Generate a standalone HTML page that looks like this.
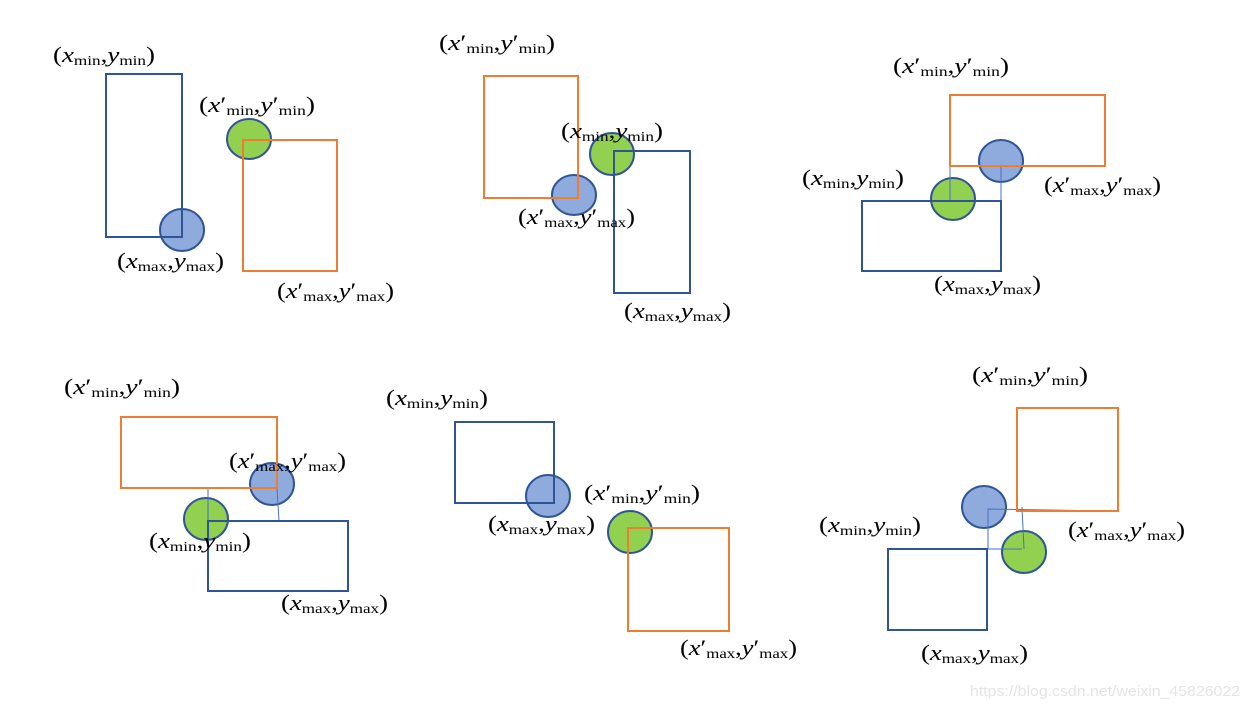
<!DOCTYPE html>
<html><head><meta charset="utf-8"><style>
html,body{margin:0;padding:0;background:#fff;}
svg{display:block;}
text{font-family:"Liberation Serif",serif;font-size:22px;fill:#000;}
.i{font-style:italic;}
.s{font-size:14px;}
.wm{font-family:"Liberation Sans",sans-serif;font-size:15px;fill:#e4e4e4;}
</style></head><body>
<svg width="1250" height="708" viewBox="0 0 1250 708" xmlns="http://www.w3.org/2000/svg">
<g stroke-width="2">
<g stroke="#2F5597">
<ellipse cx="182" cy="230" rx="22" ry="21" fill="#8FAADC"/>
<ellipse cx="249" cy="139" rx="22" ry="20" fill="#92D050"/>
<ellipse cx="574" cy="195" rx="22" ry="20" fill="#8FAADC"/>
<ellipse cx="612" cy="154" rx="22" ry="21" fill="#92D050"/>
<ellipse cx="953" cy="199" rx="22" ry="21" fill="#92D050"/>
<ellipse cx="1001" cy="161" rx="22" ry="21" fill="#8FAADC"/>
<ellipse cx="206" cy="519" rx="22" ry="21" fill="#92D050"/>
<ellipse cx="272" cy="484" rx="22" ry="21" fill="#8FAADC"/>
<ellipse cx="548" cy="496" rx="22" ry="21" fill="#8FAADC"/>
<ellipse cx="630" cy="532" rx="22" ry="21" fill="#92D050"/>
<ellipse cx="984" cy="507" rx="22" ry="21" fill="#8FAADC"/>
<ellipse cx="1024" cy="552" rx="22" ry="21" fill="#92D050"/>
</g>
<g stroke="#4472C4" stroke-width="1" fill="none">
<line x1="950" y1="130" x2="950" y2="200"/>
<line x1="1001" y1="166" x2="1001" y2="201"/>
<line x1="208" y1="488" x2="208" y2="521"/>
<line x1="277" y1="488" x2="279" y2="521"/>
<polyline points="988,549 988,509 1111,511"/>
<line x1="988" y1="549" x2="1022" y2="549"/>
<line x1="1022" y1="507" x2="1024" y2="549"/>
</g>
<g fill="none">
<rect x="106" y="74" width="76" height="163" stroke="#2F5597"/>
<rect x="243" y="140" width="94" height="131" stroke="#ED7D31"/>
<rect x="484" y="76" width="94" height="122" stroke="#ED7D31"/>
<rect x="614" y="151" width="76" height="142" stroke="#2F5597"/>
<rect x="950" y="95" width="155" height="71" stroke="#ED7D31"/>
<rect x="862" y="201" width="139" height="70" stroke="#2F5597"/>
<rect x="121" y="417" width="156" height="71" stroke="#ED7D31"/>
<rect x="208" y="521" width="140" height="70" stroke="#2F5597"/>
<rect x="455" y="422" width="99" height="81" stroke="#2F5597"/>
<rect x="628" y="528" width="101" height="103" stroke="#ED7D31"/>
<rect x="1017" y="408" width="101" height="103" stroke="#ED7D31"/>
<rect x="888" y="549" width="99" height="81" stroke="#2F5597"/>
</g>
</g>

<text x="53" y="62" textLength="102" lengthAdjust="spacingAndGlyphs">(<tspan class="i">x</tspan><tspan class="s" dy="3">min</tspan><tspan dy="-3">,</tspan><tspan class="i">y</tspan><tspan class="s" dy="3">min</tspan><tspan dy="-3">)</tspan></text>
<text x="561" y="138" textLength="102" lengthAdjust="spacingAndGlyphs">(<tspan class="i">x</tspan><tspan class="s" dy="3">min</tspan><tspan dy="-3">,</tspan><tspan class="i">y</tspan><tspan class="s" dy="3">min</tspan><tspan dy="-3">)</tspan></text>
<text x="802" y="185" textLength="102" lengthAdjust="spacingAndGlyphs">(<tspan class="i">x</tspan><tspan class="s" dy="3">min</tspan><tspan dy="-3">,</tspan><tspan class="i">y</tspan><tspan class="s" dy="3">min</tspan><tspan dy="-3">)</tspan></text>
<text x="149" y="548" textLength="102" lengthAdjust="spacingAndGlyphs">(<tspan class="i">x</tspan><tspan class="s" dy="3">min</tspan><tspan dy="-3">,</tspan><tspan class="i">y</tspan><tspan class="s" dy="3">min</tspan><tspan dy="-3">)</tspan></text>
<text x="386" y="405" textLength="102" lengthAdjust="spacingAndGlyphs">(<tspan class="i">x</tspan><tspan class="s" dy="3">min</tspan><tspan dy="-3">,</tspan><tspan class="i">y</tspan><tspan class="s" dy="3">min</tspan><tspan dy="-3">)</tspan></text>
<text x="819" y="532" textLength="102" lengthAdjust="spacingAndGlyphs">(<tspan class="i">x</tspan><tspan class="s" dy="3">min</tspan><tspan dy="-3">,</tspan><tspan class="i">y</tspan><tspan class="s" dy="3">min</tspan><tspan dy="-3">)</tspan></text>

<text x="117" y="268" textLength="107" lengthAdjust="spacingAndGlyphs">(<tspan class="i">x</tspan><tspan class="s" dy="3">max</tspan><tspan dy="-3">,</tspan><tspan class="i">y</tspan><tspan class="s" dy="3">max</tspan><tspan dy="-3">)</tspan></text>
<text x="624" y="318" textLength="107" lengthAdjust="spacingAndGlyphs">(<tspan class="i">x</tspan><tspan class="s" dy="3">max</tspan><tspan dy="-3">,</tspan><tspan class="i">y</tspan><tspan class="s" dy="3">max</tspan><tspan dy="-3">)</tspan></text>
<text x="934" y="291" textLength="107" lengthAdjust="spacingAndGlyphs">(<tspan class="i">x</tspan><tspan class="s" dy="3">max</tspan><tspan dy="-3">,</tspan><tspan class="i">y</tspan><tspan class="s" dy="3">max</tspan><tspan dy="-3">)</tspan></text>
<text x="281" y="610" textLength="107" lengthAdjust="spacingAndGlyphs">(<tspan class="i">x</tspan><tspan class="s" dy="3">max</tspan><tspan dy="-3">,</tspan><tspan class="i">y</tspan><tspan class="s" dy="3">max</tspan><tspan dy="-3">)</tspan></text>
<text x="488" y="531" textLength="107" lengthAdjust="spacingAndGlyphs">(<tspan class="i">x</tspan><tspan class="s" dy="3">max</tspan><tspan dy="-3">,</tspan><tspan class="i">y</tspan><tspan class="s" dy="3">max</tspan><tspan dy="-3">)</tspan></text>
<text x="921" y="660" textLength="107" lengthAdjust="spacingAndGlyphs">(<tspan class="i">x</tspan><tspan class="s" dy="3">max</tspan><tspan dy="-3">,</tspan><tspan class="i">y</tspan><tspan class="s" dy="3">max</tspan><tspan dy="-3">)</tspan></text>

<text x="199" y="112" textLength="116" lengthAdjust="spacingAndGlyphs">(<tspan class="i">x</tspan>′<tspan class="s" dy="3">min</tspan><tspan dy="-3">,</tspan><tspan class="i">y</tspan>′<tspan class="s" dy="3">min</tspan><tspan dy="-3">)</tspan></text>
<text x="439" y="50" textLength="116" lengthAdjust="spacingAndGlyphs">(<tspan class="i">x</tspan>′<tspan class="s" dy="3">min</tspan><tspan dy="-3">,</tspan><tspan class="i">y</tspan>′<tspan class="s" dy="3">min</tspan><tspan dy="-3">)</tspan></text>
<text x="893" y="73" textLength="116" lengthAdjust="spacingAndGlyphs">(<tspan class="i">x</tspan>′<tspan class="s" dy="3">min</tspan><tspan dy="-3">,</tspan><tspan class="i">y</tspan>′<tspan class="s" dy="3">min</tspan><tspan dy="-3">)</tspan></text>
<text x="64" y="394" textLength="116" lengthAdjust="spacingAndGlyphs">(<tspan class="i">x</tspan>′<tspan class="s" dy="3">min</tspan><tspan dy="-3">,</tspan><tspan class="i">y</tspan>′<tspan class="s" dy="3">min</tspan><tspan dy="-3">)</tspan></text>
<text x="584" y="500" textLength="116" lengthAdjust="spacingAndGlyphs">(<tspan class="i">x</tspan>′<tspan class="s" dy="3">min</tspan><tspan dy="-3">,</tspan><tspan class="i">y</tspan>′<tspan class="s" dy="3">min</tspan><tspan dy="-3">)</tspan></text>
<text x="972" y="382" textLength="116" lengthAdjust="spacingAndGlyphs">(<tspan class="i">x</tspan>′<tspan class="s" dy="3">min</tspan><tspan dy="-3">,</tspan><tspan class="i">y</tspan>′<tspan class="s" dy="3">min</tspan><tspan dy="-3">)</tspan></text>

<text x="277" y="298" textLength="117" lengthAdjust="spacingAndGlyphs">(<tspan class="i">x</tspan>′<tspan class="s" dy="3">max</tspan><tspan dy="-3">,</tspan><tspan class="i">y</tspan>′<tspan class="s" dy="3">max</tspan><tspan dy="-3">)</tspan></text>
<text x="518" y="224" textLength="117" lengthAdjust="spacingAndGlyphs">(<tspan class="i">x</tspan>′<tspan class="s" dy="3">max</tspan><tspan dy="-3">,</tspan><tspan class="i">y</tspan>′<tspan class="s" dy="3">max</tspan><tspan dy="-3">)</tspan></text>
<text x="1044" y="192" textLength="117" lengthAdjust="spacingAndGlyphs">(<tspan class="i">x</tspan>′<tspan class="s" dy="3">max</tspan><tspan dy="-3">,</tspan><tspan class="i">y</tspan>′<tspan class="s" dy="3">max</tspan><tspan dy="-3">)</tspan></text>
<text x="229" y="468" textLength="117" lengthAdjust="spacingAndGlyphs">(<tspan class="i">x</tspan>′<tspan class="s" dy="3">max</tspan><tspan dy="-3">,</tspan><tspan class="i">y</tspan>′<tspan class="s" dy="3">max</tspan><tspan dy="-3">)</tspan></text>
<text x="680" y="655" textLength="117" lengthAdjust="spacingAndGlyphs">(<tspan class="i">x</tspan>′<tspan class="s" dy="3">max</tspan><tspan dy="-3">,</tspan><tspan class="i">y</tspan>′<tspan class="s" dy="3">max</tspan><tspan dy="-3">)</tspan></text>
<text x="1068" y="537" textLength="117" lengthAdjust="spacingAndGlyphs">(<tspan class="i">x</tspan>′<tspan class="s" dy="3">max</tspan><tspan dy="-3">,</tspan><tspan class="i">y</tspan>′<tspan class="s" dy="3">max</tspan><tspan dy="-3">)</tspan></text>

<text class="wm" x="970" y="696" textLength="270" lengthAdjust="spacingAndGlyphs">https://blog.csdn.net/weixin_45826022</text>
</svg>
</body></html>
